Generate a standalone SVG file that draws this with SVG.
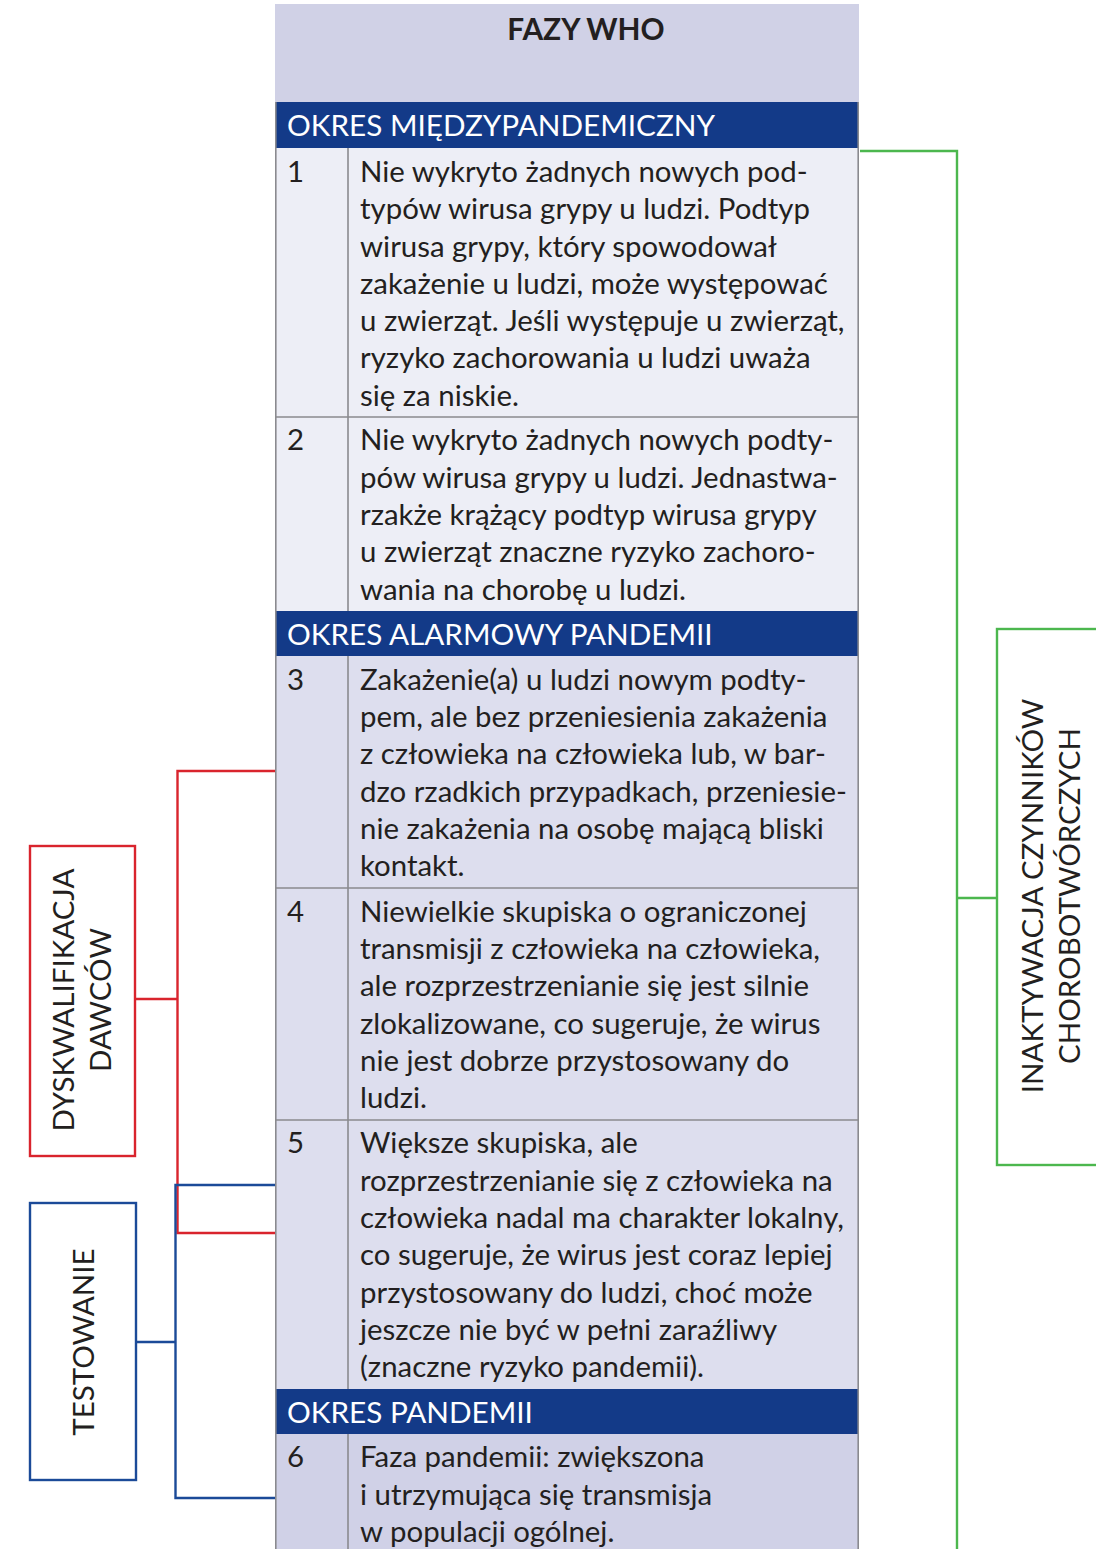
<svg xmlns="http://www.w3.org/2000/svg" width="1096" height="1549" viewBox="0 0 1096 1549">
<style>
.t{font-family:Lato,"Open Sans","Liberation Sans",sans-serif;font-size:29.4px;fill:#231f20}
.b{font-family:Lato,"Open Sans","Liberation Sans",sans-serif;font-size:29.7px;fill:#ffffff}
.v{font-family:Lato,"Open Sans","Liberation Sans",sans-serif;font-size:29.5px;fill:#231f20;text-anchor:middle}
.band{fill:#133a88}
.grid{stroke:#8a8a8f;stroke-width:1.6;fill:none}
.red{stroke:#d9242d;stroke-width:2.4;fill:none}
.blue{stroke:#1b4a98;stroke-width:2.4;fill:none}
.green{stroke:#4cb74e;stroke-width:2.4;fill:none}
</style>
<rect width="1096" height="1549" fill="#ffffff"/>
<g id="table">
<g id="header">
<rect x="275" y="4" width="584" height="98" fill="#d0d1e6"/>
<text x="586" y="40" class="t" style="font-weight:bold;font-size:29.8px" text-anchor="middle">FAZY WHO</text>
</g>
<g id="band1">
<rect x="275" y="102" width="584" height="46" class="band"/>
<text x="287" y="136" class="b">OKRES MIĘDZYPANDEMICZNY</text>
</g>
<g id="row1">
<rect x="275" y="148" width="584" height="269" fill="#edeef6"/>
<text x="287" y="182" class="t">1</text>
<text class="t"><tspan x="360" y="182">Nie wykryto żadnych nowych pod-</tspan><tspan x="360" y="219">typów wirusa grypy u ludzi. Podtyp</tspan><tspan x="360" y="257">wirusa grypy, który spowodował</tspan><tspan x="360" y="294">zakażenie u ludzi, może występować</tspan><tspan x="360" y="331">u zwierząt. Jeśli występuje u zwierząt,</tspan><tspan x="360" y="368">ryzyko zachorowania u ludzi uważa</tspan><tspan x="360" y="406">się za niskie.</tspan></text>
</g>
<g id="row2">
<rect x="275" y="417" width="584" height="194" fill="#edeef6"/>
<text x="287" y="450" class="t">2</text>
<text class="t"><tspan x="360" y="450">Nie wykryto żadnych nowych podty-</tspan><tspan x="360" y="488">pów wirusa grypy u ludzi. Jednastwa-</tspan><tspan x="360" y="525">rzakże krążący podtyp wirusa grypy</tspan><tspan x="360" y="562">u zwierząt znaczne ryzyko zachoro-</tspan><tspan x="360" y="600">wania na chorobę u ludzi.</tspan></text>
</g>
<g id="band2">
<rect x="275" y="611" width="584" height="45" class="band"/>
<text x="287" y="645" class="b">OKRES ALARMOWY PANDEMII</text>
</g>
<g id="row3">
<rect x="275" y="656" width="584" height="232" fill="#dddeee"/>
<text x="287" y="690" class="t">3</text>
<text class="t"><tspan x="360" y="690">Zakażenie(a) u ludzi nowym podty-</tspan><tspan x="360" y="727">pem, ale bez przeniesienia zakażenia</tspan><tspan x="360" y="764">z człowieka na człowieka lub, w bar-</tspan><tspan x="360" y="802">dzo rzadkich przypadkach, przeniesie-</tspan><tspan x="360" y="839">nie zakażenia na osobę mającą bliski</tspan><tspan x="360" y="876">kontakt.</tspan></text>
</g>
<g id="row4">
<rect x="275" y="888" width="584" height="232" fill="#dddeee"/>
<text x="287" y="922" class="t">4</text>
<text class="t"><tspan x="360" y="922">Niewielkie skupiska o ograniczonej</tspan><tspan x="360" y="959">transmisji z człowieka na człowieka,</tspan><tspan x="360" y="996">ale rozprzestrzenianie się jest silnie</tspan><tspan x="360" y="1034">zlokalizowane, co sugeruje, że wirus</tspan><tspan x="360" y="1071">nie jest dobrze przystosowany do</tspan><tspan x="360" y="1108">ludzi.</tspan></text>
</g>
<g id="row5">
<rect x="275" y="1120" width="584" height="269" fill="#dddeee"/>
<text x="287" y="1153" class="t">5</text>
<text class="t"><tspan x="360" y="1153">Większe skupiska, ale</tspan><tspan x="360" y="1191">rozprzestrzenianie się z człowieka na</tspan><tspan x="360" y="1228">człowieka nadal ma charakter lokalny,</tspan><tspan x="360" y="1265">co sugeruje, że wirus jest coraz lepiej</tspan><tspan x="360" y="1303">przystosowany do ludzi, choć może</tspan><tspan x="360" y="1340">jeszcze nie być w pełni zaraźliwy</tspan><tspan x="360" y="1377">(znaczne ryzyko pandemii).</tspan></text>
</g>
<g id="band3">
<rect x="275" y="1389" width="584" height="45" class="band"/>
<text x="287" y="1423" class="b">OKRES PANDEMII</text>
</g>
<g id="row6">
<rect x="275" y="1434" width="584" height="120" fill="#d0d1e7"/>
<text x="287" y="1467" class="t">6</text>
<text class="t"><tspan x="360" y="1467">Faza pandemii: zwiększona</tspan><tspan x="360" y="1505">i utrzymująca się transmisja</tspan><tspan x="360" y="1542">w populacji ogólnej.</tspan></text>
</g>
<g id="grid" class="grid">
<path d="M275.8 102V1549M858.2 102V1549"/>
<path d="M348 148V417M348 417V611M348 656V1389M348 1434V1549"/>
<path d="M275 417H859M275 888H859M275 1120H859"/>
</g>
</g>
<g id="node-dyskwalifikacja">
<rect x="30" y="846" width="105" height="310" class="red"/>
<text class="v" transform="translate(74 1000) rotate(-90)"><tspan x="0" y="0">DYSKWALIFIKACJA</tspan><tspan x="0" y="37">DAWCÓW</tspan></text>
</g>
<g id="node-testowanie">
<rect x="30" y="1203" width="106" height="277" class="blue"/>
<text class="v" transform="translate(94 1342) rotate(-90)"><tspan x="0" y="0">TESTOWANIE</tspan></text>
</g>
<g id="node-inaktywacja">
<rect x="997" y="629" width="110" height="536" class="green"/>
<text class="v" transform="translate(1043 896) rotate(-90)"><tspan x="0" y="0">INAKTYWACJA CZYNNIKÓW</tspan><tspan x="0" y="37">CHOROBOTWÓRCZYCH</tspan></text>
</g>
<g id="connectors">
<path class="red" d="M275 771H177.5V1233H275M135 999H177.5"/>
<path class="blue" d="M275 1185H175.5V1498H275M136 1342H175.5"/>
<path class="green" d="M860 151H957V1549M957 898H997"/>
</g>
</svg>
